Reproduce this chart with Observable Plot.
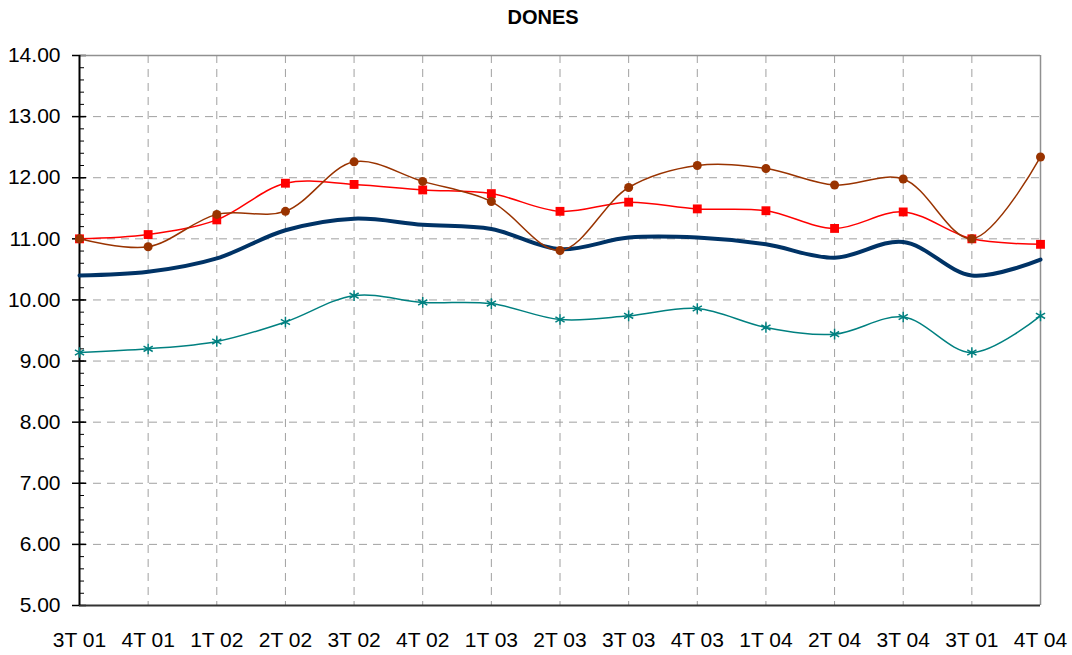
<!DOCTYPE html>
<html><head><meta charset="utf-8">
<script src="https://cdn.jsdelivr.net/npm/d3@7"></script>
<script src="https://cdn.jsdelivr.net/npm/@observablehq/plot@0.6"></script>
<style>body{margin:0;background:#fff;font-family:"Liberation Sans",Arial,sans-serif}</style>
</head><body><div id="chart"></div>
<script>
const categories = ["3T 01","4T 01","1T 02","2T 02","3T 02","4T 02","1T 03","2T 03","3T 03","4T 03","1T 04","2T 04","3T 04","3T 01","4T 04"];
const redSeries   = [11.00,11.07,11.31,11.91,11.89,11.80,11.74,11.45,11.60,11.49,11.46,11.17,11.44,11.00,10.91];
const brownSeries = [11.00,10.87,11.40,11.45,12.26,11.94,11.61,10.81,11.84,12.20,12.15,11.88,11.98,11.00,12.34];
const navySeries  = [10.40,10.46,10.68,11.14,11.33,11.23,11.16,10.83,11.02,11.02,10.91,10.69,10.95,10.40,10.66];
const tealSeries  = [9.14,9.20,9.32,9.64,10.07,9.96,9.94,9.68,9.74,9.86,9.55,9.44,9.72,9.14,9.74];
const yTicks = [5,6,7,8,9,10,11,12,13,14];
const yMinorTicks = d3.range(0, 46).map(i => 5 + i * 0.2);
const title = "DONES";

const idx = d3.range(categories.length);
const toRows = s => s.map((v, i) => ({i, v}));
const red = toRows(redSeries), brown = toRows(brownSeries), navy = toRows(navySeries), teal = toRows(tealSeries);

const gridStyle = {stroke: "#a0a0a0", strokeOpacity: 1, strokeWidth: 1, strokeDasharray: "8,6"};

const chart = Plot.plot({
  width: 1072,
  height: 655,
  marginTop: 55,
  marginBottom: 50,
  marginLeft: 79,
  marginRight: 32,
  style: {fontFamily: "'Liberation Sans', Arial, sans-serif", fontSize: "21px", color: "#000", background: "#fff"},
  x: {type: "linear", domain: [0, categories.length - 1]},
  y: {domain: [5, 14]},
  marks: [
    Plot.gridY(yTicks, gridStyle),
    Plot.gridX(idx, gridStyle),
    Plot.axisX(idx, {tickSize: 0, tickPadding: 27, tickFormat: i => categories[i], label: null, fontSize: 21}),
    Plot.axisY(yTicks, {tickSize: 7, tickPadding: 12, tickFormat: d => d.toFixed(2), label: null, fontSize: 21, stroke: "#000", strokeWidth: 1.5}),
    Plot.axisY(yMinorTicks, {tickSize: -5, tickFormat: () => "", label: null, stroke: "#000", strokeWidth: 1}),
    Plot.axisY(yTicks, {tickSize: -7, tickFormat: () => "", label: null, stroke: "#000", strokeWidth: 1.5}),
    Plot.ruleY([14], {stroke: "#909090", strokeWidth: 1.5}),
    Plot.ruleX([categories.length - 1], {stroke: "#909090", strokeWidth: 1.5}),
    Plot.ruleY([5], {stroke: "#333", strokeWidth: 2}),
    Plot.ruleX([0], {stroke: "#000", strokeWidth: 2}),
    Plot.line(navy, {x: "i", y: "v", stroke: "#003366", strokeWidth: 4, curve: "catmull-rom"}),
    Plot.line(teal, {x: "i", y: "v", stroke: "#008080", strokeWidth: 1.5, curve: "catmull-rom"}),
    Plot.dot(teal, {x: "i", y: "v", symbol: "asterisk", stroke: "#008080", strokeWidth: 1.5, r: 5}),
    Plot.line(red, {x: "i", y: "v", stroke: "#ff0000", strokeWidth: 1.5, curve: "catmull-rom"}),
    Plot.dot(red, {x: "i", y: "v", symbol: "square", fill: "#ff0000", r: 5}),
    Plot.line(brown, {x: "i", y: "v", stroke: "#993300", strokeWidth: 1.5, curve: "catmull-rom"}),
    Plot.dot(brown, {x: "i", y: "v", symbol: "circle", fill: "#993300", r: 4.5}),
    Plot.text([title], {frameAnchor: "top", dy: -46, dx: -17, text: d => d, fontWeight: "bold", fontSize: 20, fill: "#000"})
  ]
});
document.getElementById("chart").appendChild(chart);
</script>
</body></html>
